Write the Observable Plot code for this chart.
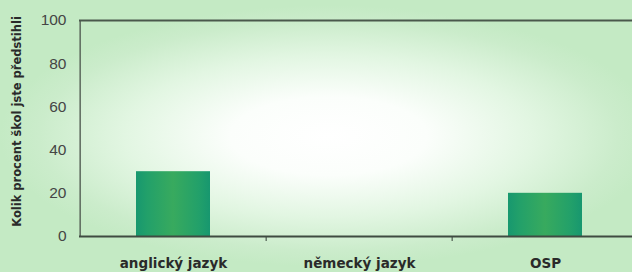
<!DOCTYPE html>
<html>
<head>
<meta charset="utf-8">
<script src="https://cdn.jsdelivr.net/npm/d3@7"></script>
<script src="https://cdn.jsdelivr.net/npm/@observablehq/plot@0.6"></script>
<style>
  html, body { margin: 0; padding: 0; width: 632px; height: 272px; overflow: hidden; }
  #chart {
    width: 632px; height: 272px; overflow: hidden;
    background: radial-gradient(ellipse 52% 48% at 52% 50%, #ffffff 0%, #fbfefb 30%, #e2f6e2 62%, #cbeccb 88%, #c4eac4 100%);
  }
  #chart svg { background: transparent !important; overflow: visible; }
</style>
</head>
<body>
<div id="chart"></div>
<script>
const categories = ["anglický jazyk", "německý jazyk", "OSP"];
const values = [30, 0, 20];
const yTicks = [0, 20, 40, 60, 80, 100];
const yLabel = "Kolik procent škol jste předstihli";

const data = categories.map((c, i) => ({category: c, value: values[i]}));

const W = 632, H = 272, ML = 79, MR = -7, MT = 20, MB = 36;
const step = (W - MR - ML) / categories.length;

const chart = Plot.plot({
  width: W,
  height: H,
  marginLeft: ML,
  marginRight: MR,
  marginTop: MT,
  marginBottom: MB,
  style: {background: "transparent"},
  x: {domain: categories, padding: 0, axis: null},
  y: {domain: [0, 100], axis: null},
  marks: [
    Plot.barY(data, {x: "category", y: "value", fill: "url(#barGrad)", insetLeft: 56, insetRight: 56}),
    Plot.ruleX(categories.slice(1), {x: d => d, dx: -step / 2, y1: 0, y2: 0, insetBottom: -5, stroke: "#4d5a4f", strokeWidth: 1.2}),
    Plot.ruleY(yTicks, {y: d => d, x1: categories[0], x2: categories[0], dx: -step / 2, insetLeft: -4, stroke: "#6a766b", strokeWidth: 1}),
    Plot.ruleX([categories[0]], {x: d => d, dx: -step / 2, stroke: "#5b675c", strokeWidth: 1.5}),
    Plot.ruleY([0], {stroke: "#3f4b41", strokeWidth: 2}),
    Plot.ruleY([100], {stroke: "#4a584c", strokeWidth: 2}),
    Plot.text(yTicks, {y: d => d, frameAnchor: "left", dx: -13, textAnchor: "end", text: d => String(d), fontSize: 15.5, fill: "#454545", fontFamily: "Liberation Sans, Arial, sans-serif"}),
    Plot.text(categories, {x: d => d, y: 0, lineAnchor: "top", dy: 22.4, text: d => d, fontSize: 13.5, fontWeight: "bold", fill: "#2a2a2a", fontFamily: "DejaVu Sans, sans-serif"}),
    Plot.text([yLabel], {frameAnchor: "left", textAnchor: "middle", rotate: -90, dx: -62, dy: -7, text: d => d, fontSize: 11.5, fontWeight: "bold", fill: "#2a2a2a", fontFamily: "DejaVu Sans, sans-serif"})
  ]
});

const ns = "http://www.w3.org/2000/svg";
const defs = document.createElementNS(ns, "defs");
const grad = document.createElementNS(ns, "linearGradient");
grad.setAttribute("id", "barGrad");
grad.setAttribute("x1", "0"); grad.setAttribute("x2", "1");
grad.setAttribute("y1", "0"); grad.setAttribute("y2", "0");
[["0%", "#17986f"], ["15%", "#22a06a"], ["50%", "#38aa5e"], ["85%", "#22a06a"], ["100%", "#17976f"]].forEach(([o, c]) => {
  const s = document.createElementNS(ns, "stop");
  s.setAttribute("offset", o); s.setAttribute("stop-color", c);
  grad.appendChild(s);
});
defs.appendChild(grad);
chart.insertBefore(defs, chart.firstChild);

document.getElementById("chart").appendChild(chart);
</script>
</body>
</html>
